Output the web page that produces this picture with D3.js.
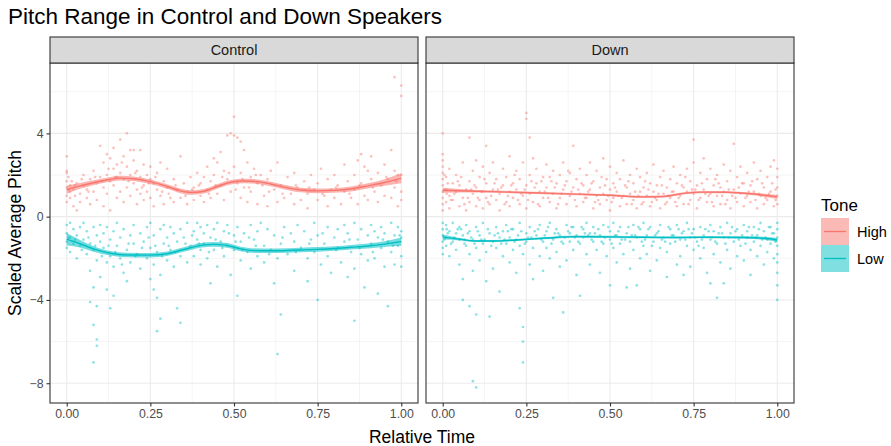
<!DOCTYPE html>
<html>
<head>
<meta charset="utf-8">
<script src="https://cdn.jsdelivr.net/npm/d3@7"></script>
<style>
  body { margin: 0; background: #fff; }
  svg { font-family: "Liberation Sans", Arial, sans-serif; }
</style>
</head>
<body>
<div id="chart"></div>
<script>
// Facets and tones
const facets = ["Control", "Down"];
const tones = ["High", "Low"];
const toneColors = { High: "#F8766D", Low: "#00BFC4" };

const xTicks = [0, 0.25, 0.5, 0.75, 1];
const xMinor = [0.125, 0.375, 0.625, 0.875];
const yTicks = [-8, -4, 0, 4];
const yMinor = [-6, -2, 2, 6];

// Raw points [relative time, scaled pitch]
const controlHigh = [[0,2.9],[0,2.2],[0,2.1],[0,1.7],[0,1.4],[0,1.0],[0,0.7],[0.005,1.9],[0.01,1.5],[0.01,1.2],[0.01,0.9],[0.015,1.7],[0.02,1.3],[0.02,0.5],[0.025,1.0],[0.03,1.6],[0.03,0.3],[0.04,1.1],[0.04,0.7],[0.05,1.5],[0.05,2.0],[0.06,0.9],[0.06,1.3],[0.07,1.8],[0.07,0.6],[0.08,1.2],[0.08,2.2],[0.09,0.8],[0.09,1.6],[0.1,1.9],[0.1,3.4],
  [0.11,2.6],[0.11,1.4],[0.11,0.5],[0.12,3.0],[0.12,2.0],[0.12,1.1],[0.13,2.8],[0.13,1.7],[0.13,0.3],[0.14,3.3],[0.14,2.3],[0.14,1.5],[0.15,2.5],[0.15,1.9],[0.15,0.9],[0.16,3.7],[0.16,2.1],[0.16,1.2],[0.17,2.9],[0.17,1.8],[0.17,0.7],[0.18,4.0],[0.18,2.4],[0.18,1.4],[0.19,3.2],[0.19,2.0],[0.19,1.0],[0.2,2.7],[0.2,1.6],[0.2,3.2],
  [0.21,2.2],[0.21,1.3],[0.21,0.6],[0.22,3.2],[0.22,1.9],[0.22,1.1],[0.23,2.5],[0.23,1.5],[0.23,0.8],[0.24,2.0],[0.24,1.2],[0.25,1.8],[0.25,0.9],[0.25,2.4],[0.26,1.6],[0.26,0.5],[0.27,2.1],[0.27,1.3],[0.28,1.0],[0.28,2.6],[0.29,1.7],[0.29,0.6],[0.3,1.4],[0.3,2.3],
  [0.31,0.9],[0.32,1.8],[0.32,0.7],[0.33,1.3],[0.34,2.9],[0.34,0.9],[0.35,1.6],[0.36,0.6],[0.36,1.2],[0.37,1.9],[0.38,0.8],[0.38,1.4],[0.39,2.1],[0.4,1.0],[0.4,1.6],
  [0.41,0.7],[0.41,1.9],[0.42,1.3],[0.42,2.4],[0.43,0.9],[0.43,1.7],[0.44,2.0],[0.44,2.8],[0.45,1.1],[0.45,2.6],[0.46,1.5],[0.46,3.1],[0.47,0.8],[0.47,2.2],[0.48,3.9],[0.48,1.8],[0.49,4.0],[0.49,1.2],[0.5,4.8],[0.5,3.9],[0.5,2.4],[0.51,3.8],[0.51,1.6],[0.52,3.6],[0.52,0.9],[0.52,2.1],[0.53,3.2],[0.53,1.4],
  [0.54,2.6],[0.54,0.7],[0.55,1.9],[0.55,1.2],[0.56,2.3],[0.57,0.6],[0.57,1.6],[0.58,2.0],[0.59,1.0],[0.6,1.8],[0.6,0.5],[0.61,2.2],[0.62,1.3],[0.63,0.7],[0.63,2.6],[0.64,1.5],[0.65,0.9],[0.66,1.9],[0.67,1.1],[0.68,0.6],[0.68,2.1],[0.69,1.4],[0.7,0.8],
  [0.71,1.7],[0.72,1.1],[0.72,0.4],[0.73,2.0],[0.74,1.3],[0.75,0.8],[0.75,1.6],[0.76,2.3],[0.77,1.0],[0.78,0.5],[0.78,1.8],[0.79,1.3],[0.8,0.9],[0.8,2.0],[0.81,1.5],[0.82,0.6],[0.83,1.2],[0.83,2.5],[0.84,1.7],[0.85,0.9],
  [0.86,2.0],[0.86,1.3],[0.87,2.7],[0.87,0.6],[0.88,3.0],[0.88,1.6],[0.89,2.4],[0.89,1.0],[0.9,2.2],[0.9,0.8],[0.91,1.8],[0.91,2.9],[0.92,1.2],[0.93,2.1],[0.93,0.7],[0.94,1.5],[0.95,2.5],[0.95,1.0],[0.96,1.8],[0.97,3.2],[0.97,0.9],[0.98,1.4],[0.98,2.2],[0.98,6.7],[0.99,2.0],[0.99,0.5],[1,5.8],[1,6.3],[1,1.2],[1,2.0],[1,0.8],
  [0.005,1.3],[0.025,1.5],[0.045,1.8],[0.065,1.2],[0.085,1.9],[0.105,1.7],[0.125,2.3],[0.145,1.9],[0.165,2.6],[0.185,1.7],[0.205,2.1],[0.225,1.4],[0.245,1.6],[0.265,1.9],[0.285,1.2],[0.305,1.1],[0.325,1.5],[0.355,1.0],[0.375,1.3],[0.395,1.5],
  [0.425,1.1],[0.445,1.5],[0.465,1.9],[0.485,2.1],[0.505,1.3],[0.525,1.8],[0.545,1.4],[0.565,2.0],[0.585,1.5],[0.605,1.2],[0.645,1.1],[0.685,1.5],[0.725,1.4],[0.765,1.1],[0.805,1.4],[0.845,1.1],[0.875,1.5],[0.915,1.4],[0.955,1.9],[0.985,1.7]];

const controlLow = [[0,-0.4],[0,-0.8],[0,-1.2],[0,-1.5],[0.01,-0.3],[0.01,-1.0],[0.01,-1.7],[0.02,-0.6],[0.02,-1.3],[0.03,-0.9],[0.03,-2.0],[0.04,-0.5],[0.04,-1.4],[0.05,-1.1],[0.05,-0.3],[0.06,-1.8],[0.06,-0.7],[0.07,-1.3],[0.07,-2.6],[0.07,-4.1],[0.08,-0.5],[0.08,-1.6],[0.08,-3.4],[0.08,-5.2],[0.08,-7.0],[0.09,-0.9],[0.09,-2.1],[0.09,-4.3],[0.09,-5.9],[0.09,-6.2],[0.1,-1.2],[0.1,-0.4],[0.1,-2.9],
  [0.11,-1.5],[0.11,-0.8],[0.12,-2.2],[0.12,-0.5],[0.12,-3.5],[0.13,-1.1],[0.13,-1.9],[0.13,-4.4],[0.14,-0.7],[0.14,-2.4],[0.14,-3.8],[0.15,-1.4],[0.15,-0.3],[0.16,-2.0],[0.16,-1.0],[0.17,-2.7],[0.17,-0.6],[0.18,-1.6],[0.18,-3.1],[0.19,-0.9],[0.19,-2.2],[0.2,-1.3],[0.2,-0.4],
  [0.21,-1.8],[0.22,-0.8],[0.22,-2.5],[0.23,-1.2],[0.24,-0.5],[0.24,-2.0],[0.25,-1.5],[0.25,-3.0],[0.25,-0.3],[0.26,-2.3],[0.26,-3.5],[0.26,-0.9],[0.27,-3.9],[0.27,-1.7],[0.27,-5.5],[0.28,-0.6],[0.28,-2.8],[0.28,-4.9],[0.29,-1.3],[0.29,-0.4],[0.3,-2.1],[0.3,-1.0],
  [0.31,-0.5],[0.31,-1.6],[0.32,-2.4],[0.32,-0.8],[0.33,-1.2],[0.33,-4.4],[0.34,-5.1],[0.34,-0.6],[0.34,-1.9],[0.35,-1.0],[0.36,-0.3],[0.36,-2.2],[0.37,-1.4],[0.38,-0.7],[0.38,-1.9],[0.39,-0.3],[0.39,-1.1],[0.4,-0.5],[0.4,-1.6],[0.4,-2.3],
  [0.41,-0.8],[0.41,-1.3],[0.42,-0.4],[0.42,-2.0],[0.43,-1.0],[0.43,-3.2],[0.44,-0.6],[0.44,-1.6],[0.45,-0.3],[0.45,-2.4],[0.46,-1.2],[0.47,-0.7],[0.47,-1.9],[0.48,-0.4],[0.48,-1.4],[0.49,-2.8],[0.5,-0.9],[0.5,-1.6],
  [0.51,-3.8],[0.51,-0.5],[0.52,-1.2],[0.52,-2.1],[0.53,-0.8],[0.54,-1.7],[0.55,-0.4],[0.55,-2.5],[0.56,-1.1],[0.57,-0.7],[0.57,-1.9],[0.58,-0.3],[0.59,-1.4],[0.59,-2.2],[0.6,-0.6],[0.61,-1.6],[0.62,-3.2],[0.62,-0.9],[0.63,-2.0],[0.63,-6.6],[0.64,-4.7],[0.64,-1.3],[0.65,-0.5],
  [0.66,-1.8],[0.67,-0.8],[0.68,-2.6],[0.68,-1.2],[0.69,-0.4],[0.7,-1.5],[0.71,-0.7],[0.72,-2.0],[0.72,-3.1],[0.73,-1.1],[0.74,-0.3],[0.74,-1.7],[0.75,-4.0],[0.75,-0.9],[0.76,-2.3],[0.77,-1.3],[0.78,-0.5],[0.78,-1.9],[0.79,-2.7],[0.8,-1.0],
  [0.81,-0.6],[0.81,-1.5],[0.82,-2.2],[0.83,-0.4],[0.83,-1.2],[0.84,-2.9],[0.84,-0.8],[0.85,-1.7],[0.86,-5.0],[0.86,-0.3],[0.86,-2.5],[0.87,-1.1],[0.88,-0.6],[0.88,-1.8],[0.89,-3.4],[0.9,-0.9],[0.9,-2.1],
  [0.91,-0.4],[0.91,-1.3],[0.92,-0.7],[0.92,-2.0],[0.93,-1.0],[0.93,-3.7],[0.94,-0.5],[0.94,-1.5],[0.95,-2.4],[0.95,-0.8],[0.96,-1.2],[0.96,-4.3],[0.97,-0.3],[0.97,-1.7],[0.98,-0.9],[0.98,-2.3],[0.99,-0.5],[0.99,-1.4],[1,-0.7],[1,-1.0],[1,-1.9],[1,-2.4],
  [0.005,-1.0],[0.025,-1.1],[0.045,-1.6],[0.065,-1.0],[0.085,-1.4],[0.105,-1.9],[0.125,-1.4],[0.145,-1.7],[0.165,-2.3],[0.185,-1.3],[0.205,-1.9],[0.225,-1.5],[0.245,-1.0],[0.265,-1.4],[0.285,-1.9],[0.305,-1.4],[0.325,-1.7],[0.355,-1.3],[0.375,-0.9],[0.395,-1.3],
  [0.425,-1.7],[0.445,-1.1],[0.465,-1.5],[0.485,-0.8],[0.505,-1.2],[0.525,-1.6],[0.545,-1.0],[0.565,-1.4],[0.605,-1.8],[0.645,-1.0],[0.685,-1.7],[0.725,-1.3],[0.765,-0.8],[0.805,-1.6],[0.845,-1.1],[0.875,-1.5],[0.915,-1.7],[0.945,-1.1],[0.975,-1.4],[0.995,-0.9]];

const downHigh = [[0,4.0],[0,3.0],[0,2.7],[0,2.4],[0,2.1],[0,1.8],[0,1.5],[0,1.2],[0,0.9],[0,0.6],[0,0.3],[0.01,1.9],[0.01,1.3],[0.01,0.7],[0.02,2.3],[0.02,1.0],[0.02,0.4],[0.03,1.6],[0.03,0.8],[0.04,1.2],[0.04,2.0],[0.05,0.5],[0.05,1.5],[0.06,2.6],[0.06,0.9],[0.07,1.3],[0.07,0.3],[0.08,3.8],[0.08,1.7],[0.08,0.7],[0.09,2.2],[0.09,1.1],[0.1,2.7],[0.1,0.5],[0.1,1.4],
  [0.11,1.9],[0.11,0.8],[0.12,2.4],[0.12,1.2],[0.12,0.4],[0.13,3.4],[0.13,1.6],[0.13,0.9],[0.14,2.1],[0.14,0.6],[0.15,1.3],[0.15,2.6],[0.16,0.8],[0.16,1.8],[0.17,1.1],[0.17,0.3],[0.18,2.3],[0.18,1.5],[0.19,0.7],[0.19,1.9],[0.2,1.2],[0.2,2.9],[0.2,0.5],
  [0.21,1.6],[0.21,0.9],[0.22,2.2],[0.22,1.3],[0.23,0.6],[0.23,1.8],[0.24,2.6],[0.24,1.0],[0.25,4.98],[0.25,4.7],[0.25,1.5],[0.25,0.4],[0.26,3.8],[0.26,2.0],[0.26,1.1],[0.27,2.8],[0.27,0.7],[0.28,1.6],[0.28,2.3],[0.29,1.2],[0.29,0.5],[0.3,1.9],[0.3,0.9],
  [0.31,2.5],[0.31,1.4],[0.32,0.7],[0.32,1.9],[0.33,1.1],[0.33,2.2],[0.34,0.4],[0.34,1.6],[0.35,2.0],[0.35,0.9],[0.36,1.3],[0.36,2.6],[0.37,0.6],[0.37,1.7],[0.38,1.0],[0.38,2.1],[0.39,3.4],[0.39,1.4],[0.4,0.5],[0.4,1.8],
  [0.41,1.1],[0.41,2.3],[0.42,0.7],[0.42,1.5],[0.43,2.0],[0.43,0.9],[0.44,1.3],[0.44,2.6],[0.45,0.4],[0.45,1.7],[0.46,1.0],[0.46,2.2],[0.47,1.4],[0.47,0.6],[0.48,2.8],[0.48,1.1],[0.49,1.8],[0.49,0.8],[0.5,2.4],[0.5,1.3],[0.5,0.3],
  [0.51,1.6],[0.51,0.9],[0.52,2.1],[0.52,1.2],[0.53,0.5],[0.53,1.8],[0.54,2.7],[0.54,1.0],[0.55,1.4],[0.55,0.6],[0.56,2.0],[0.56,1.1],[0.57,0.8],[0.57,1.6],[0.58,2.3],[0.58,0.4],[0.59,1.2],[0.59,1.9],[0.6,0.7],[0.6,1.4],
  [0.61,2.1],[0.61,1.0],[0.62,0.5],[0.62,1.6],[0.63,1.2],[0.63,2.5],[0.64,0.8],[0.64,1.5],[0.65,1.9],[0.65,0.4],[0.66,1.1],[0.66,2.2],[0.67,0.7],[0.67,1.4],[0.68,1.8],[0.68,0.9],[0.69,2.4],[0.69,1.2],[0.7,0.5],[0.7,1.6],
  [0.71,2.0],[0.71,1.0],[0.72,1.4],[0.72,0.6],[0.73,2.3],[0.73,1.2],[0.74,0.8],[0.74,1.7],[0.75,3.7],[0.75,2.6],[0.75,1.1],[0.76,1.5],[0.76,0.4],[0.77,2.1],[0.77,0.9],[0.78,1.3],[0.78,2.8],[0.79,0.7],[0.79,1.8],[0.8,1.1],[0.8,2.3],
  [0.81,0.5],[0.81,1.5],[0.82,2.0],[0.82,1.0],[0.83,1.4],[0.83,0.6],[0.84,2.5],[0.84,1.2],[0.85,0.8],[0.85,1.7],[0.86,2.2],[0.86,0.4],[0.87,3.5],[0.87,1.3],[0.88,1.9],[0.88,0.7],[0.89,1.1],[0.89,2.4],[0.9,1.6],[0.9,0.5],
  [0.91,2.1],[0.91,1.0],[0.92,0.7],[0.92,1.5],[0.93,2.6],[0.93,1.2],[0.94,0.4],[0.94,1.8],[0.95,1.0],[0.95,2.2],[0.96,0.6],[0.96,1.4],[0.97,1.9],[0.97,0.8],[0.98,1.2],[0.98,2.4],[0.99,2.7],[0.99,0.5],[1,1.9],[1,1.4],[1,1.0],[1,0.6],[1,2.3],
  [0.015,1.6],[0.035,1.1],[0.055,1.9],[0.075,0.9],[0.095,1.5],[0.115,1.2],[0.135,0.7],[0.155,1.6],[0.175,1.4],[0.195,1.0],[0.215,2.0],[0.235,1.1],[0.255,0.8],[0.275,1.4],[0.295,1.7],[0.315,0.9],[0.335,1.4],[0.355,1.1],[0.375,2.2],[0.395,0.8],
  [0.415,1.6],[0.435,1.2],[0.455,0.7],[0.475,1.9],[0.495,1.0],[0.515,1.4],[0.535,0.9],[0.555,1.7],[0.575,1.2],[0.595,0.6],[0.615,1.3],[0.635,0.9],[0.655,1.5],[0.675,1.0],[0.695,0.7],[0.715,1.5],[0.735,0.6],[0.755,1.3],[0.775,1.6],[0.795,1.0],
  [0.815,1.8],[0.835,1.0],[0.855,1.3],[0.875,0.9],[0.895,1.6],[0.915,1.2],[0.935,0.8],[0.955,1.6],[0.975,1.1],[0.995,1.3],
  [0.005,2.0],[0.012,1.1],[0.025,0.8],[0.045,1.7],[0.065,0.6],[0.085,1.3],[0.105,0.9],[0.125,1.8],[0.145,1.0],[0.165,1.3],[0.185,0.6],[0.205,1.5],[0.225,0.8],[0.245,1.3],[0.265,1.7],[0.285,0.6],[0.305,1.2],[0.325,1.7],[0.345,0.6],[0.365,1.5],
  [0.385,1.2],[0.405,1.3],[0.425,0.9],[0.445,1.6],[0.465,0.8],[0.485,1.5],[0.505,0.7],[0.525,1.0],[0.545,1.5],[0.565,0.6],[0.585,1.0],[0.605,1.7],[0.625,0.7],[0.645,1.1],[0.665,0.6],[0.685,1.2],[0.705,0.9],[0.725,1.9],[0.745,1.3],[0.765,0.8],
  [0.785,1.1],[0.805,0.7],[0.825,1.6],[0.845,0.6],[0.865,1.0],[0.885,1.4],[0.905,0.9],[0.925,1.7],[0.945,1.1],[0.965,0.9],[0.985,1.6],[0.995,0.8]];

const downLow = [[0,-0.3],[0,-0.6],[0,-0.9],[0,-1.2],[0,-1.5],[0,-1.8],[0.01,-0.4],[0.01,-1.0],[0.01,-1.4],[0.02,-0.7],[0.02,-1.9],[0.03,-0.3],[0.03,-1.2],[0.04,-0.8],[0.04,-1.6],[0.05,-0.5],[0.05,-1.1],[0.05,-2.3],[0.06,-3.0],[0.06,-4.0],[0.06,-0.9],[0.07,-1.4],[0.07,-0.4],[0.08,-4.3],[0.08,-1.8],[0.08,-0.7],[0.09,-2.6],[0.09,-1.1],[0.1,-4.7],[0.1,-0.5],[0.1,-1.5],[0.09,-7.9],[0.1,-8.2],
  [0.11,-0.9],[0.11,-2.1],[0.12,-1.3],[0.12,-0.3],[0.13,-1.7],[0.13,-3.1],[0.14,-4.8],[0.14,-0.8],[0.15,-1.2],[0.15,-2.5],[0.16,-0.5],[0.16,-1.5],[0.17,-1.0],[0.17,-3.6],[0.18,-0.7],[0.18,-1.9],[0.19,-1.3],[0.19,-0.4],[0.2,-2.2],[0.2,-1.0],
  [0.21,-0.6],[0.21,-1.6],[0.22,-2.7],[0.22,-1.1],[0.23,-0.3],[0.23,-1.4],[0.23,-4.4],[0.24,-5.3],[0.24,-6.0],[0.24,-7.0],[0.24,-1.8],[0.25,-0.8],[0.25,-1.2],[0.26,-2.3],[0.26,-0.5],[0.27,-1.5],[0.27,-3.0],[0.28,-0.9],[0.29,-1.9],[0.29,-0.4],[0.3,-1.2],[0.3,-2.6],
  [0.31,-0.7],[0.31,-1.5],[0.32,-0.3],[0.32,-2.0],[0.33,-1.1],[0.33,-3.9],[0.34,-0.6],[0.34,-1.7],[0.35,-2.4],[0.35,-0.9],[0.36,-4.6],[0.36,-1.3],[0.37,-0.4],[0.37,-2.1],[0.38,-0.8],[0.38,-1.2],[0.39,-1.6],[0.39,-0.5],[0.4,-0.9],[0.4,-2.8],
  [0.41,-3.8],[0.41,-1.3],[0.42,-0.6],[0.42,-1.0],[0.43,-1.8],[0.43,-0.3],[0.44,-0.8],[0.44,-2.3],[0.45,-1.2],[0.45,-0.5],[0.46,-1.6],[0.47,-0.9],[0.47,-2.7],[0.48,-0.4],[0.48,-1.3],[0.49,-1.9],[0.5,-3.3],[0.5,-0.7],[0.5,-1.1],
  [0.51,-0.3],[0.51,-1.5],[0.52,-2.2],[0.52,-0.9],[0.53,-1.3],[0.53,-0.5],[0.54,-1.8],[0.55,-3.4],[0.55,-0.8],[0.56,-1.2],[0.56,-2.5],[0.57,-0.4],[0.57,-1.6],[0.58,-3.3],[0.58,-1.0],[0.59,-0.6],[0.59,-2.0],[0.6,-1.4],[0.6,-0.3],
  [0.61,-0.9],[0.61,-1.8],[0.62,-2.6],[0.62,-0.5],[0.63,-1.2],[0.64,-0.8],[0.64,-2.1],[0.65,-1.5],[0.65,-0.4],[0.66,-1.0],[0.67,-2.9],[0.67,-1.7],[0.68,-0.6],[0.68,-1.3],[0.69,-0.9],[0.7,-2.3],[0.7,-0.4],
  [0.71,-1.1],[0.71,-1.9],[0.72,-0.7],[0.72,-2.8],[0.73,-1.4],[0.73,-0.3],[0.74,-1.0],[0.74,-2.4],[0.75,-0.6],[0.75,-1.6],[0.76,-1.2],[0.77,-0.5],[0.77,-2.0],[0.78,-0.9],[0.78,-1.5],[0.79,-2.7],[0.8,-0.4],[0.8,-1.1],[0.8,-3.2],
  [0.81,-1.8],[0.81,-0.7],[0.82,-1.3],[0.82,-3.9],[0.83,-0.5],[0.83,-2.2],[0.84,-1.0],[0.84,-3.2],[0.85,-1.6],[0.85,-0.3],[0.86,-0.8],[0.86,-2.5],[0.87,-1.2],[0.88,-0.6],[0.88,-1.9],[0.89,-1.4],[0.9,-0.4],[0.9,-2.1],
  [0.91,-1.0],[0.91,-0.7],[0.92,-1.6],[0.92,-2.8],[0.93,-0.5],[0.93,-1.2],[0.94,-1.9],[0.94,-0.9],[0.95,-0.3],[0.95,-1.4],[0.96,-2.3],[0.96,-0.7],[0.97,-1.1],[0.97,-1.7],[0.98,-0.5],[0.98,-1.3],[0.99,-2.0],[0.99,-0.8],[1,-0.3],[1,-0.6],[1,-1.0],[1,-1.4],[1,-1.8],[1,-2.2],[1,-2.7],[1,-3.3],[1,-4.0],
  [0.015,-0.8],[0.035,-1.0],[0.055,-0.6],[0.065,-1.3],[0.085,-1.0],[0.105,-0.7],[0.125,-1.1],[0.145,-1.4],[0.165,-0.8],[0.185,-1.1],[0.205,-0.6],[0.225,-0.9],[0.245,-1.3],[0.265,-1.0],[0.285,-0.6],[0.305,-0.9],[0.325,-1.3],[0.345,-0.8],[0.365,-1.0],[0.385,-0.5],
  [0.405,-1.2],[0.425,-0.8],[0.445,-1.1],[0.465,-0.6],[0.485,-1.0],[0.505,-1.3],[0.525,-0.7],[0.545,-1.1],[0.565,-0.9],[0.585,-0.5],[0.605,-1.1],[0.625,-1.4],[0.645,-0.7],[0.665,-1.2],[0.685,-0.9],[0.705,-0.6],[0.725,-1.1],[0.745,-0.8],[0.765,-1.4],[0.785,-0.6],
  [0.805,-1.0],[0.825,-0.8],[0.845,-1.3],[0.865,-0.5],[0.885,-1.1],[0.905,-1.3],[0.925,-0.9],[0.945,-0.6],[0.965,-1.0],[0.985,-0.8],
  [0.005,-1.1],[0.012,-0.6],[0.025,-1.3],[0.045,-0.6],[0.065,-1.1],[0.075,-0.8],[0.095,-1.3],[0.115,-1.1],[0.135,-0.6],[0.155,-0.9],[0.175,-1.3],[0.195,-0.7],[0.215,-1.2],[0.235,-0.7],[0.255,-1.0],[0.275,-0.7],[0.295,-1.1],[0.315,-0.5],[0.335,-0.8],[0.355,-1.2],
  [0.375,-0.7],[0.395,-1.0],[0.415,-0.5],[0.435,-0.9],[0.455,-0.8],[0.475,-1.2],[0.495,-0.5],[0.515,-0.9],[0.535,-1.1],[0.555,-0.5],[0.575,-0.9],[0.595,-1.2],[0.615,-0.6],[0.635,-0.9],[0.655,-1.1],[0.675,-0.5],[0.695,-1.2],[0.715,-0.8],[0.735,-0.6],[0.755,-1.0],
  [0.775,-1.1],[0.795,-0.7],[0.815,-1.2],[0.835,-0.8],[0.855,-1.0],[0.875,-0.7],[0.895,-0.9],[0.915,-0.5],[0.935,-1.0],[0.955,-1.1],[0.975,-0.5],[0.995,-1.2]];

// Smoothed fits: [time, fit, half-width of band]
const controlHighFit = [[0,1.30,0.2],[0.04,1.48,0.14],[0.08,1.63,0.12],[0.12,1.76,0.11],[0.16,1.85,0.11],[0.2,1.82,0.11],[0.25,1.68,0.11],[0.3,1.45,0.11],[0.34,1.24,0.11],[0.37,1.16,0.11],[0.41,1.22,0.11],[0.45,1.45,0.11],[0.49,1.65,0.11],[0.53,1.71,0.11],[0.57,1.68,0.11],[0.61,1.57,0.11],[0.65,1.42,0.11],[0.7,1.28,0.11],[0.75,1.24,0.11],[0.8,1.26,0.11],[0.85,1.33,0.12],[0.9,1.48,0.13],[0.95,1.64,0.16],[1,1.84,0.24]];
const controlLowFit = [[0,-1.08,0.3],[0.04,-1.3,0.18],[0.08,-1.55,0.13],[0.13,-1.76,0.11],[0.18,-1.84,0.11],[0.25,-1.85,0.11],[0.3,-1.78,0.11],[0.35,-1.58,0.11],[0.4,-1.38,0.11],[0.44,-1.33,0.11],[0.48,-1.38,0.11],[0.52,-1.55,0.11],[0.56,-1.63,0.11],[0.62,-1.64,0.11],[0.7,-1.6,0.11],[0.75,-1.57,0.11],[0.8,-1.53,0.11],[0.85,-1.47,0.11],[0.9,-1.41,0.12],[0.95,-1.32,0.14],[1,-1.2,0.2]];
const downHighFit = [[0,1.27,0.12],[0.1,1.22,0.06],[0.2,1.18,0.05],[0.3,1.13,0.05],[0.4,1.08,0.05],[0.5,1.03,0.05],[0.6,0.95,0.05],[0.66,0.97,0.05],[0.72,1.12,0.05],[0.78,1.18,0.05],[0.85,1.17,0.05],[0.92,1.1,0.06],[1,0.95,0.1]];
const downLowFit = [[0,-0.98,0.12],[0.05,-1.08,0.06],[0.1,-1.17,0.05],[0.15,-1.17,0.05],[0.22,-1.12,0.05],[0.3,-1.04,0.05],[0.4,-0.96,0.05],[0.5,-0.97,0.05],[0.6,-0.99,0.05],[0.7,-1.0,0.05],[0.8,-0.99,0.05],[0.9,-1.0,0.06],[0.96,-1.04,0.07],[1,-1.12,0.1]];

const pointsByFacet = {
  Control: { High: controlHigh, Low: controlLow },
  Down: { High: downHigh, Low: downLow }
};
const fitsByFacet = {
  Control: { High: controlHighFit, Low: controlLowFit },
  Down: { High: downHighFit, Low: downLowFit }
};

const W = 891, H = 446;
const panelTop = 63, panelBottom = 403, stripH = 26;
const panelLefts = [50, 426], panelW = 368;
const fontStack = "Liberation Sans, Arial, sans-serif";

const svg = d3.select("#chart").append("svg")
  .attr("width", W).attr("height", H);

const y = d3.scaleLinear().domain([-8.95, 7.38]).range([panelBottom, panelTop]);

svg.append("defs").selectAll("clipPath")
  .data(facets).join("clipPath")
  .attr("id", (d, i) => "clip" + i)
  .append("rect")
  .attr("x", (d, i) => panelLefts[i]).attr("y", panelTop)
  .attr("width", panelW).attr("height", panelBottom - panelTop);

facets.forEach((facet, i) => {
  const left = panelLefts[i];
  const x = d3.scaleLinear().domain([-0.05, 1.05]).range([left, left + panelW]);
  const g = svg.append("g");

  // Grid
  const grid = g.append("g");
  grid.selectAll(".xminor").data(xMinor).join("line")
    .attr("x1", d => x(d)).attr("x2", d => x(d))
    .attr("y1", panelTop).attr("y2", panelBottom)
    .attr("stroke", "#EBEBEB").attr("stroke-width", 0.55);
  grid.selectAll(".yminor").data(yMinor).join("line")
    .attr("x1", left).attr("x2", left + panelW)
    .attr("y1", d => y(d)).attr("y2", d => y(d))
    .attr("stroke", "#EBEBEB").attr("stroke-width", 0.55);
  grid.selectAll(".xmajor").data(xTicks).join("line")
    .attr("x1", d => x(d)).attr("x2", d => x(d))
    .attr("y1", panelTop).attr("y2", panelBottom)
    .attr("stroke", "#EBEBEB").attr("stroke-width", 1.1);
  grid.selectAll(".ymajor").data(yTicks).join("line")
    .attr("x1", left).attr("x2", left + panelW)
    .attr("y1", d => y(d)).attr("y2", d => y(d))
    .attr("stroke", "#EBEBEB").attr("stroke-width", 1.1);

  const plot = g.append("g").attr("clip-path", `url(#clip${i})`);

  // Points
  tones.forEach(tone => {
    plot.append("g").selectAll("circle")
      .data(pointsByFacet[facet][tone])
      .join("circle")
      .attr("cx", d => x(d[0]))
      .attr("cy", d => y(d[1]))
      .attr("r", 1.35)
      .attr("fill", toneColors[tone])
      .attr("opacity", 0.45);
  });

  // Smooth bands and lines
  tones.forEach(tone => {
    const fit = fitsByFacet[facet][tone];
    plot.append("path")
      .datum(fit)
      .attr("d", d3.area()
        .x(d => x(d[0]))
        .y0(d => y(d[1] - d[2]))
        .y1(d => y(d[1] + d[2]))
        .curve(d3.curveMonotoneX))
      .attr("fill", toneColors[tone])
      .attr("opacity", 0.55);
    plot.append("path")
      .datum(fit)
      .attr("d", d3.line()
        .x(d => x(d[0]))
        .y(d => y(d[1]))
        .curve(d3.curveMonotoneX))
      .attr("fill", "none")
      .attr("stroke", toneColors[tone])
      .attr("stroke-width", 1.4);
  });

  // Panel border
  g.append("rect")
    .attr("x", left).attr("y", panelTop)
    .attr("width", panelW).attr("height", panelBottom - panelTop)
    .attr("fill", "none").attr("stroke", "#333333").attr("stroke-width", 1.1);

  // Strip
  g.append("rect")
    .attr("x", left).attr("y", panelTop - stripH)
    .attr("width", panelW).attr("height", stripH)
    .attr("fill", "#D9D9D9").attr("stroke", "#333333").attr("stroke-width", 1.1);
  g.append("text")
    .attr("x", left + panelW / 2).attr("y", panelTop - stripH / 2)
    .attr("dy", "0.35em").attr("text-anchor", "middle")
    .attr("font-size", "14.5px").attr("fill", "#1A1A1A")
    .text(facet);

  // X axis
  const xAxis = g.append("g")
    .attr("transform", `translate(0,${panelBottom})`)
    .call(d3.axisBottom(x).tickValues(xTicks).tickFormat(d3.format(".2f")).tickSize(3.5).tickPadding(3))
    .call(a => a.select(".domain").remove());
  xAxis.selectAll("line").attr("stroke", "#333333").attr("stroke-width", 1.1);
  xAxis.selectAll("text").attr("fill", "#4D4D4D").attr("font-size", "12.3px")
    .attr("font-family", fontStack);

  // Y axis (only first panel)
  if (i === 0) {
    const yAxis = g.append("g")
      .attr("transform", `translate(${left},0)`)
      .call(d3.axisLeft(y).tickValues(yTicks).tickSize(3.5).tickPadding(3)
        .tickFormat(d => d < 0 ? "\u2212" + Math.abs(d) : String(d)))
      .call(a => a.select(".domain").remove());
    yAxis.selectAll("line").attr("stroke", "#333333").attr("stroke-width", 1.1);
    yAxis.selectAll("text").attr("fill", "#4D4D4D").attr("font-size", "12.3px")
      .attr("font-family", fontStack);
  }
});

// Titles
svg.append("text")
  .attr("x", 8).attr("y", 24)
  .attr("font-size", "22.5px").attr("fill", "#000")
  .text("Pitch Range in Control and Down Speakers");

svg.append("text")
  .attr("x", (panelLefts[0] + panelLefts[1] + panelW) / 2).attr("y", 443)
  .attr("text-anchor", "middle").attr("font-size", "17.5px").attr("fill", "#000")
  .text("Relative Time");

svg.append("text")
  .attr("transform", `translate(21,${(panelTop + panelBottom) / 2}) rotate(-90)`)
  .attr("text-anchor", "middle").attr("font-size", "17.5px").attr("fill", "#000")
  .text("Scaled Average Pitch");

// Legend
const legend = svg.append("g").attr("transform", "translate(821,0)");
legend.append("text")
  .attr("x", 0).attr("y", 211)
  .attr("font-size", "17px").attr("fill", "#000")
  .text("Tone");
tones.forEach((tone, k) => {
  const top = 218 + k * 27;
  legend.append("rect")
    .attr("x", 0).attr("y", top).attr("width", 28).attr("height", 27)
    .attr("fill", toneColors[tone]).attr("opacity", 0.5);
  legend.append("line")
    .attr("x1", 3).attr("x2", 25)
    .attr("y1", top + 13.5).attr("y2", top + 13.5)
    .attr("stroke", toneColors[tone]).attr("stroke-width", 1.3);
  legend.append("text")
    .attr("x", 36).attr("y", top + 13.5).attr("dy", "0.35em")
    .attr("font-size", "14.5px").attr("fill", "#000")
    .text(tone);
});
</script>
</body>
</html>
